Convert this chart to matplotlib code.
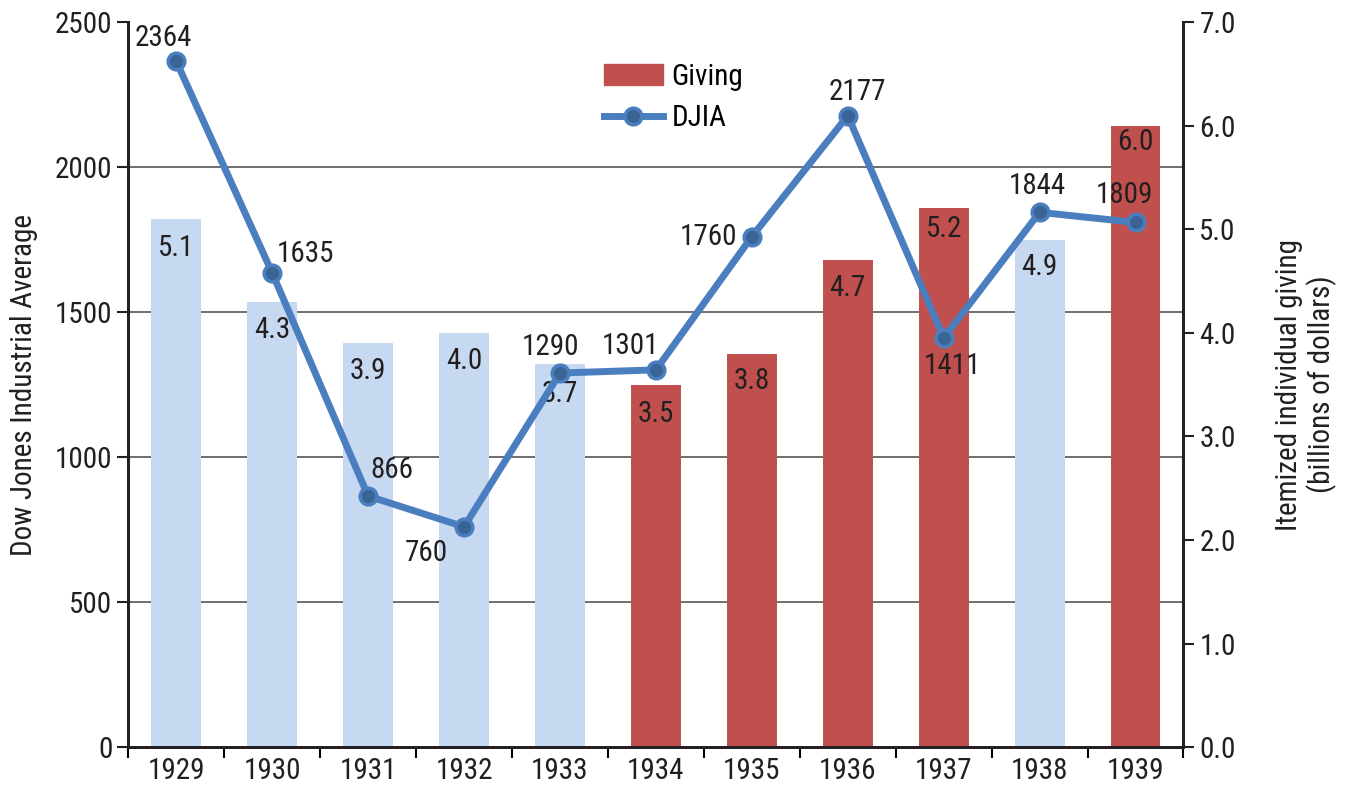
import matplotlib.pyplot as plt
import numpy as np
from matplotlib.patches import Patch
from matplotlib.lines import Line2D

plt.rcParams['font.family'] = ['Roboto Condensed', 'Liberation Sans', 'DejaVu Sans']

years = ['1929', '1930', '1931', '1932', '1933', '1934', '1935', '1936', '1937', '1938', '1939']
giving = [5.1, 4.3, 3.9, 4.0, 3.7, 3.5, 3.8, 4.7, 5.2, 4.9, 6.0]
djia = [2364, 1635, 866, 760, 1290, 1301, 1760, 2177, 1411, 1844, 1809]
highlight = [False, False, False, False, False, True, True, True, True, False, True]

# label offsets in points
djia_offsets = [(-9, 17), (24, 14), (17, 19), (-27, -19), (-7, 19), (-18, 17),
                (-31, 0), (7, 17), (6, -20), (-2, 19), (-8, 20)]
giving_offsets = [-21, -20, -20, -20, -22, -21, -20, -20, -15, -20, -12]

light_blue = '#C6D9F1'
red = '#C0504D'
line_blue = '#4A7EBF'
dark_blue = '#3A6496'
txt = '#231F20'
fs = 21

fig, ax = plt.subplots(figsize=(13.51, 7.85), dpi=100)
fig.subplots_adjust(left=0.095, right=0.876, top=0.972, bottom=0.048)
ax2 = ax.twinx()

x = np.arange(len(years))
colors = [red if h else light_blue for h in highlight]
ax2.bar(x, giving, width=0.52, color=colors, zorder=2)
for xi, g, off in zip(x, giving, giving_offsets):
    ax2.annotate(f'{g:.1f}', (xi, g), xytext=(0, off), textcoords='offset points',
                 ha='center', va='center', fontsize=fs, color=txt)

left_ticks = np.arange(0, 2501, 500)
ax2.set_ylim(0, 7)
ax2.set_yticks(np.arange(0, 7.01, 1))
ax2.set_yticklabels([f'{v:.1f}' for v in np.arange(0, 7.01, 1)])
# gridlines at the left axis ticks, drawn behind the bars
ax2.set_yticks(left_ticks * 7 / 2500, minor=True)
ax2.yaxis.grid(True, which='minor', color='#555555', linewidth=1.2)
ax2.set_axisbelow(True)
ax2.tick_params(axis='y', which='minor', length=0)
ax2.set_ylabel('Itemized individual giving\n(billions of dollars)', fontsize=fs,
               labelpad=28, color=txt, linespacing=1.15)

ax.set_ylim(0, 2500)
ax.set_yticks(left_ticks)
ax.set_ylabel('Dow Jones Industrial Average', fontsize=fs, labelpad=12, color=txt)

# line axis above the bar axis
ax.set_zorder(ax2.get_zorder() + 1)
ax.patch.set_visible(False)
ax2.patch.set_visible(True)

ax.plot(x, djia, color=line_blue, linewidth=5, marker='o', markersize=12,
        markerfacecolor=dark_blue, markeredgecolor=line_blue, markeredgewidth=2.5,
        zorder=3)
for xi, d, off in zip(x, djia, djia_offsets):
    ax.annotate(str(d), (xi, d), xytext=off, textcoords='offset points',
                ha='center', va='center', fontsize=fs, color=txt)

ax.set_xlim(-0.5, len(years) - 0.5)
ax.set_xticks(x)
ax.set_xticklabels(years)
ax.set_xticks(np.arange(-0.5, len(years), 1), minor=True)
ax.tick_params(axis='x', which='major', length=0, labelsize=fs, pad=7, colors=txt)
ax.tick_params(axis='x', which='minor', length=8, width=1.5, direction='out')
ax.tick_params(axis='y', length=8, width=1.5, labelsize=fs, colors=txt)
ax2.tick_params(axis='y', which='major', length=8, width=1.5, labelsize=fs, colors=txt)

for a in (ax, ax2):
    a.spines['top'].set_visible(False)
    for s in ('left', 'right', 'bottom'):
        a.spines[s].set_linewidth(2)
        a.spines[s].set_color(txt)

handles = [Patch(color=red, label='Giving'),
           Line2D([0], [0], color=line_blue, linewidth=5, marker='o', markersize=12,
                  markerfacecolor=dark_blue, markeredgecolor=line_blue,
                  markeredgewidth=2.5, label='DJIA')]
ax.legend(handles=handles, loc='upper left', bbox_to_anchor=(0.44, 0.96), frameon=False,
          fontsize=fs, handlelength=2.0, handletextpad=0.3, labelspacing=0.45,
          borderaxespad=0)

fig.savefig('out.png', dpi=100)
